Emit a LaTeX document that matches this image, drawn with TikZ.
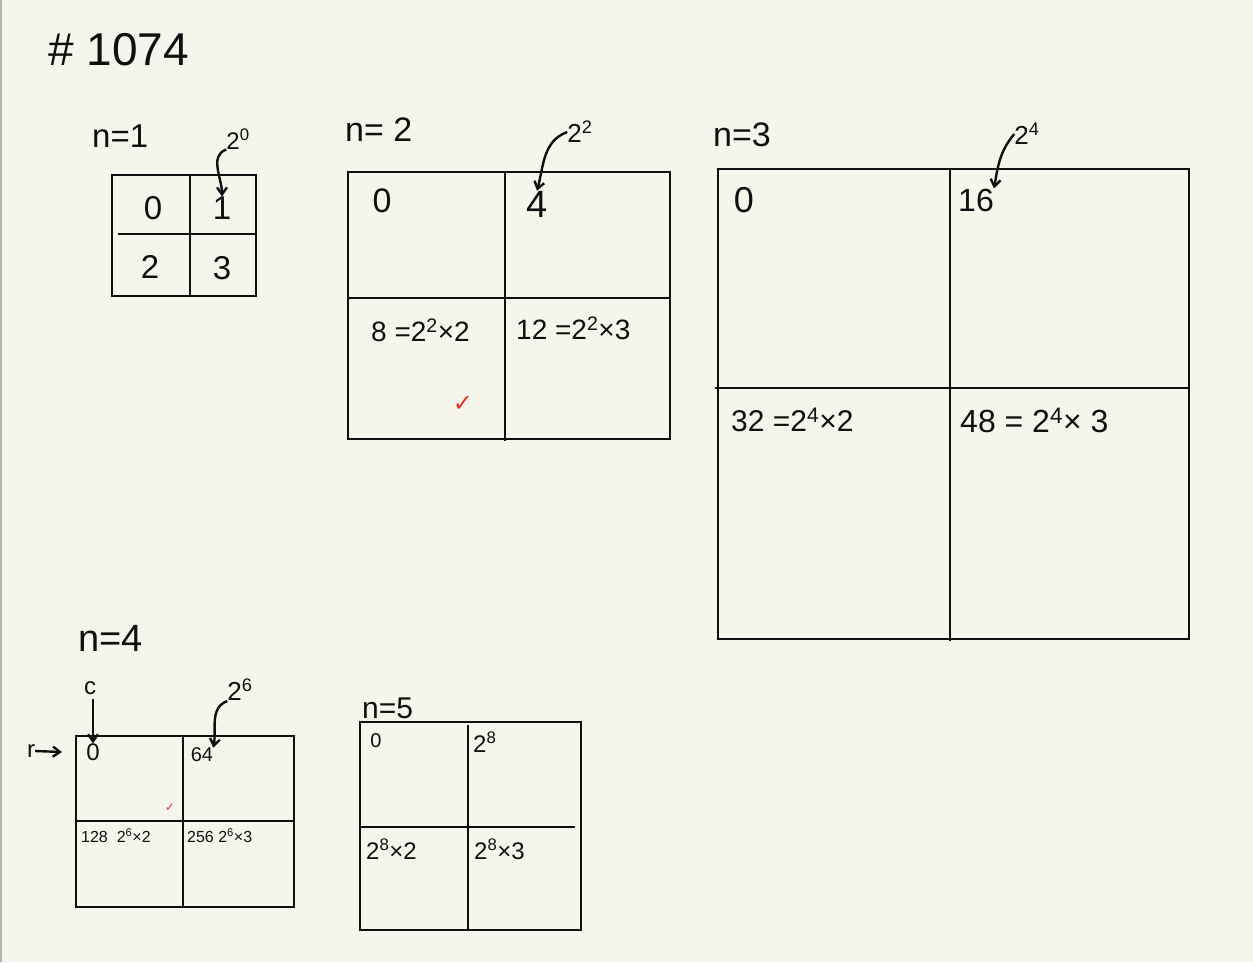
\documentclass[tikz,border=0pt]{standalone}
\usepackage{fontspec}
\setmainfont{Liberation Sans}
\newfontfamily\symfont{DejaVu Sans}
\usetikzlibrary{arrows.meta}
\definecolor{paper}{RGB}{246,245,236}
\definecolor{ink}{RGB}{15,15,15}
\definecolor{tick}{RGB}{228,52,40}
\tikzset{
  gridline/.style={draw=ink, line width=2.8pt},
  txt/.style={inner sep=0pt, text=ink},
  fs/.style={font=\fontsize{#1}{#1}\selectfont},
  hand/.style={draw=ink, line width=2.4pt, -{Straight Barb[length=7pt,width=10pt]}},
  checkmark/.style={inner sep=0pt, text=tick, font=\symfont\fontsize{#1}{#1}\selectfont}
}
\newcommand{\sq}[1]{\textsuperscript{#1}}
\begin{document}
\begin{tikzpicture}[x=1pt,y=-1pt]
\fill[paper] (0,0) rectangle (1253,962);
\useasboundingbox (0,0) rectangle (1253,962);
\draw[gray!60, line width=1.5pt] (1,0) -- (1,962);

% title
\node[txt, fs=46, anchor=west] (title) at (48,50) {\# 1074};

% ---------- n=1 ----------
\node[txt, fs=33, anchor=west] (lab1) at (92,136) {n=1};
\draw[gridline] (112,175) rectangle (256,296);
\draw[gridline] (190,175) -- (190,296);
\draw[gridline] (118,234) -- (256,234);
\node[txt, fs=33] (a0) at (153,208) {0};
\node[txt, fs=33] (a1) at (222,208) {1};
\node[txt, fs=33] (a2) at (150,267) {2};
\node[txt, fs=33] (a3) at (222,268) {3};
\node[txt, fs=24] (e1) at (238,139) {2\sq{0}};
\draw[hand] (e1.south west) to[out=200,in=90] (a1.north);

% ---------- n=2 ----------
\node[txt, fs=34, anchor=west] (lab2) at (345,130) {n= 2};
\draw[gridline] (348,172) rectangle (670,439);
\draw[gridline] (505,172) -- (505,441);
\draw[gridline] (348,298) -- (670,298);
\node[txt, fs=34] (b0) at (382,201) {0};
\node[txt, fs=38] (b1) at (537,204) {4};
\node[txt, fs=28, anchor=west] (b2) at (371,330) {8 =2\sq{2}×2};
\node[txt, fs=28, anchor=west] (b3) at (516,328) {12 =2\sq{2}×3};
\node[checkmark=24] (ok2) at (463,404) {✓};
\node[txt, fs=26] (e2) at (580,132) {2\sq{2}};
\draw[hand] (e2.west) to[out=200,in=75] (b1.north);

% ---------- n=3 ----------
\node[txt, fs=34, anchor=west] (lab3) at (713,135) {n=3};
\draw[gridline] (718,169) rectangle (1189,639);
\draw[gridline] (950,169) -- (950,641);
\draw[gridline] (715,388) -- (1189,388);
\node[txt, fs=36] (c0) at (744,200) {0};
\node[txt, fs=32] (c1) at (976,200) {16};
\node[txt, fs=30, anchor=west] (c2) at (731,420) {32 =2\sq{4}×2};
\node[txt, fs=32, anchor=west] (c3) at (960,420) {48 = 2\sq{4}× 3};
\node[txt, fs=26] (e3) at (1027,134) {2\sq{4}};
\draw[hand] (e3.west) to[out=230,in=80] (c1.north east);

% ---------- n=4 ----------
\node[txt, fs=38, anchor=west] (lab4) at (78,638) {n=4};
\draw[gridline] (76,736) rectangle (294,907);
\draw[gridline] (183,736) -- (183,907);
\draw[gridline] (76,821) -- (294,821);
\node[txt, fs=24] (d0) at (93,752) {0};
\node[txt, fs=20] (d1) at (202,755) {64};
\node[txt, fs=16, anchor=west] (d2) at (81,836) {128\ \ 2\sq{6}×2};
\node[txt, fs=16, anchor=west] (d3) at (187,836) {256\ 2\sq{6}×3};
\node[checkmark=12] (ok4) at (170,808) {✓};
\node[txt, fs=26] (e4) at (240,690) {2\sq{6}};
\node[txt, fs=24] (cl) at (90,688) {c};
\node[txt, fs=24] (rl) at (31,751) {r};
\draw[hand] (e4.south west) to[out=200,in=80] (d1.north east);
\draw[hand] (cl.south) ++(3,4) coordinate (cs) (cs) -- (d0.north);
\draw[hand] (rl.east) -- (62,752) coordinate (re);

% ---------- n=5 ----------
\node[txt, fs=30, anchor=west] (lab5) at (362,708) {n=5};
\draw[gridline] (360,722) rectangle (581,930);
\draw[gridline] (468,725) -- (468,930);
\draw[gridline] (360,827) -- (575,827);
\node[txt, fs=20] (f0) at (376,741) {0};
\node[txt, fs=24, anchor=west] (f1) at (473,742) {2\sq{8}};
\node[txt, fs=24, anchor=west] (f2) at (366,849) {2\sq{8}×2};
\node[txt, fs=24, anchor=west] (f3) at (474,849) {2\sq{8}×3};
\end{tikzpicture}
\end{document}
